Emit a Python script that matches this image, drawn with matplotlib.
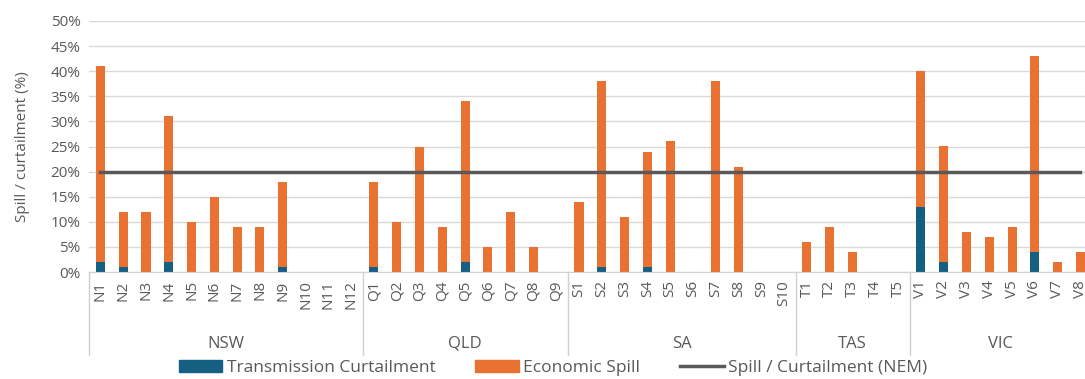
import matplotlib
matplotlib.use("Agg")
import matplotlib.pyplot as plt
import matplotlib.transforms as mtransforms
from matplotlib.patches import Patch
from matplotlib.lines import Line2D

plt.rcParams["font.family"] = ["Open Sans", "DejaVu Sans"]

# Data (values in %)
groups = ["NSW", "QLD", "SA", "TAS", "VIC"]
group_sizes = [12, 9, 10, 5, 8]
categories = (
    [f"N{i}" for i in range(1, 13)]
    + [f"Q{i}" for i in range(1, 10)]
    + [f"S{i}" for i in range(1, 11)]
    + [f"T{i}" for i in range(1, 6)]
    + [f"V{i}" for i in range(1, 9)]
)
total = [
    41, 12, 12, 31, 10, 15, 9, 9, 18, 0, 0, 0,
    18, 10, 25, 9, 34, 5, 12, 5, 0,
    14, 38, 11, 24, 26, 0, 38, 21, 0, 0,
    6, 9, 4, 0, 0,
    40, 25, 8, 7, 9, 43, 2, 4,
]
transmission = [
    2, 1, 0, 2, 0, 0, 0, 0, 1, 0, 0, 0,
    1, 0, 0, 0, 2, 0, 0, 0, 0,
    0, 1, 0, 1, 0, 0, 0, 0, 0, 0,
    0, 0, 0, 0, 0,
    13, 2, 0, 0, 0, 4, 0, 0,
]
economic = [t - c for t, c in zip(total, transmission)]
nem = [20] * len(categories)

BLUE = "#156082"
ORANGE = "#E97132"
LINE = "#595959"
TXT = "#595959"

fig = plt.figure(figsize=(10.85, 3.79), dpi=100)
ax = fig.add_axes([89 / 1085, 1 - 272 / 379, 1 - 89 / 1085, (272 - 21) / 379])

x = list(range(len(categories)))
yt = [v / 100 for v in transmission]
ye = [v / 100 for v in economic]
ax.bar(x, yt, width=0.4, color=BLUE, zorder=2)
ax.bar(x, ye, width=0.4, bottom=yt, color=ORANGE, zorder=2)
ax.plot(x, [v / 100 for v in nem], color=LINE, lw=2.5, zorder=3)

# the source chart is cropped on the right, through the last category
ax.set_xlim(-0.5, 43.2)
ax.set_ylim(0, 0.5)
ax.set_yticks([i * 0.05 for i in range(11)])
ax.set_yticklabels([f"{i * 5}%" for i in range(11)], fontsize=11, color=TXT)
ax.yaxis.grid(True, color="#D9D9D9", lw=1, zorder=0)
ax.tick_params(axis="y", length=0, pad=6)

ax.set_xticks(x)
ax.set_xticklabels(categories, rotation=90, fontsize=11, color=TXT)
ax.tick_params(axis="x", length=0, pad=6)

for s in ["top", "right", "left"]:
    ax.spines[s].set_visible(False)
ax.spines["bottom"].set_color("#D0D0D0")

ax.set_ylabel("Spill / curtailment (%)", fontsize=11, color=TXT, labelpad=15)

# group separators and labels
trans = mtransforms.blended_transform_factory(ax.transData, ax.transAxes)
start = 0
bounds = [-0.5]
for g, n in zip(groups, group_sizes):
    end = start + n
    bounds.append(end - 0.5)
    ax.text((start + end - 1) / 2, -0.285, g, transform=trans, ha="center",
            va="center", fontsize=12, color=TXT)
    start = end
for b in bounds[:-1]:
    ax.plot([b, b], [0, -0.33], transform=trans, color="#D0D0D0", lw=1,
            clip_on=False)

handles = [
    Patch(color=BLUE),
    Patch(color=ORANGE),
    Line2D([0], [0], color=LINE, lw=2.5),
]
labels = ["Transmission Curtailment", "Economic Spill", "Spill / Curtailment (NEM)"]
fig.legend(handles, labels, loc="center", bbox_to_anchor=(553 / 1085, 1 - 368 / 379),
           ncol=3, frameon=False, fontsize=12.5, handlelength=2.5, handleheight=0.7,
           columnspacing=2.3, handletextpad=0.25, labelcolor=TXT)

fig.savefig("out.png", dpi=100)
